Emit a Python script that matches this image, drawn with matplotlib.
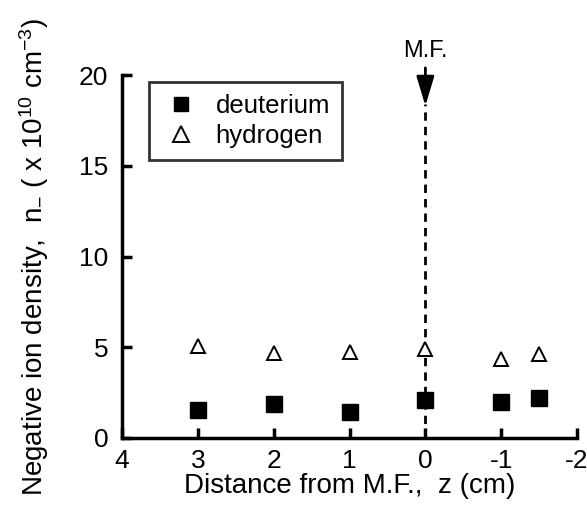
import matplotlib
matplotlib.use("Agg")
import matplotlib.pyplot as plt
from matplotlib.lines import Line2D

plt.rcParams['font.family'] = ['Liberation Sans', 'DejaVu Sans']
plt.rcParams['mathtext.fontset'] = 'custom'
plt.rcParams['mathtext.rm'] = 'Liberation Sans'
plt.rcParams['mathtext.it'] = 'Liberation Sans:italic'

z_deuterium = [3, 2, 1, 0, -1, -1.5]
n_deuterium = [1.54, 1.87, 1.45, 2.09, 2.0, 2.19]
z_hydrogen = [3, 2, 1, 0, -1, -1.5]
n_hydrogen = [5.07, 4.66, 4.72, 4.89, 4.33, 4.61]
xticks = [4, 3, 2, 1, 0, -1, -2]
yticks = [0, 5, 10, 15, 20]

fig = plt.figure(figsize=(5.87, 5.11), dpi=100)
ax = fig.add_axes([0.208, 0.143, 0.775, 0.71])

ax.plot(z_deuterium, n_deuterium, linestyle='none', marker='s', ms=11.5,
        color='black', label='deuterium')
ax.plot(z_hydrogen, n_hydrogen, linestyle='none', marker='^', ms=10,
        mfc='white', mec='black', mew=1.4, label='hydrogen')

# M.F. dashed line and arrow
ax.plot([0, 0], [0, 18.4], linestyle=(0, (3, 2.2)), color='black', lw=2, zorder=1)
ax.annotate('', xy=(0, 18.3), xytext=(0, 20.4),
            arrowprops=dict(arrowstyle='-|>,head_length=0.6,head_width=0.18',
                            color='black', lw=2,
                            mutation_scale=30, shrinkA=0, shrinkB=0),
            annotation_clip=False)
ax.text(0, 20.75, 'M.F.', ha='center', va='bottom', fontsize=17)

ax.set_xlim(4, -2)
ax.set_ylim(0, 20)
ax.set_xticks(xticks)
ax.set_xticklabels([str(t) for t in xticks])
ax.set_yticks(yticks)
for s in ['top', 'right']:
    ax.spines[s].set_visible(False)
for s in ['left', 'bottom']:
    ax.spines[s].set_linewidth(2.5)
ax.tick_params(direction='in', length=7, width=2.5, labelsize=19)
ax.tick_params(axis='y', pad=10)
ax.tick_params(axis='x', pad=8)

ax.set_xlabel('Distance from M.F.,  z (cm)', fontsize=20, labelpad=0)
ax.set_ylabel(r'Negative ion density,  n$_{-}$ ( x 10$^{10}$ cm$^{-3}$)', fontsize=20, labelpad=20)

handles = [Line2D([], [], linestyle='none', marker='s', ms=10.5, color='black'),
           Line2D([], [], linestyle='none', marker='^', ms=11, mfc='white', mec='black', mew=1.4)]
leg = ax.legend(handles, ['deuterium', 'hydrogen'], loc='upper left',
                bbox_to_anchor=(0.059, 0.981), fontsize=18.5, frameon=True,
                fancybox=False, edgecolor='black', borderpad=0.45,
                handletextpad=0.55, labelspacing=0.25, borderaxespad=0,
                handlelength=1.6)
leg.get_frame().set_linewidth(2)

fig.savefig('out.png', dpi=100)
